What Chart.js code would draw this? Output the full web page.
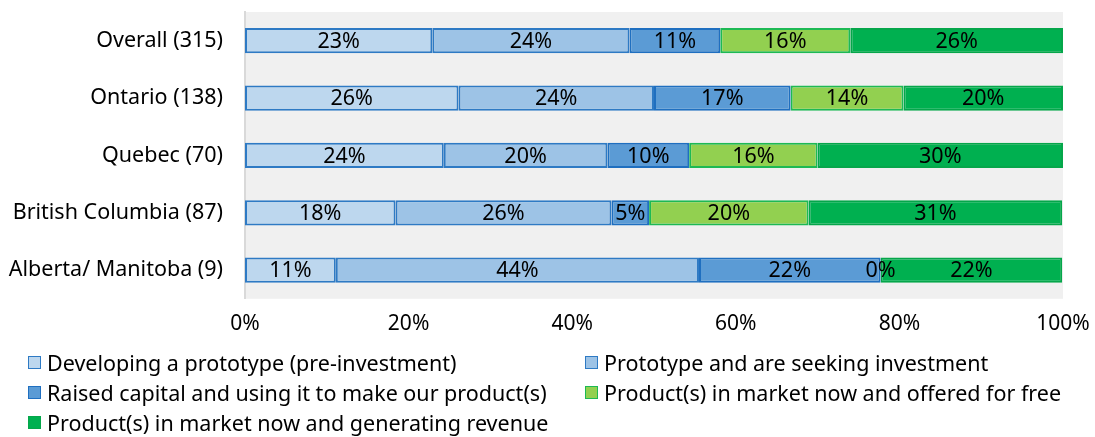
<!DOCTYPE html>
<html>
<head>
<meta charset="utf-8">
<script src="https://cdn.jsdelivr.net/npm/chart.js@4.4.1/dist/chart.umd.min.js"></script>
<style>
  html, body { margin: 0; padding: 0; background: #ffffff; }
  #wrap { position: relative; width: 1095px; height: 437px; font-family: "Noto Sans", sans-serif; }
  #box { position: absolute; left: 0; top: 0; width: 1095px; height: 350px; }
  #legend {
    position: absolute; left: 28px; top: 347px;
    display: grid; grid-template-columns: 557px auto;
  }
  .item { display: flex; align-items: center; height: 30px; font-size: 21.5px; color: #000; white-space: nowrap; }
  .sw { width: 11px; height: 11px; border: 1px solid; margin-right: 6px; flex: none; }
</style>
</head>
<body>
<div id="wrap">
  <div id="box"><canvas id="chart"></canvas></div>
  <div id="legend"></div>
</div>
<script>
// Respondent groups (sample size in brackets)
const regions = ["Overall (315)", "Ontario (138)", "Quebec (70)", "British Columbia (87)", "Alberta/ Manitoba (9)"];

// Share of respondents (%) at each stage, per region
const developingPrototype = [22.9, 26.1, 24.3, 18.4, 11.1];
const seekingInvestment   = [24.1, 23.9, 20.0, 26.4, 44.4];
const raisedCapital       = [11.1, 16.7, 10.0, 4.6, 22.2];
const offeredForFree      = [15.9, 13.8, 15.7, 19.5, 0.0];
const generatingRevenue   = [26.0, 19.5, 30.0, 31.0, 22.2];

const stageNames = [
  "Developing a prototype (pre-investment)",
  "Prototype and are seeking investment",
  "Raised capital and using it to make our product(s)",
  "Product(s) in market now and offered for free",
  "Product(s) in market now and generating revenue"
];

const xTicks = [0, 20, 40, 60, 80, 100];

const fills   = ["#bdd7ee", "#9dc3e6", "#5b9bd5", "#92d050", "#00b050"];
const borders = ["#2e7ac4", "#2e7ac4", "#1f6fc0", "#1db954", "#05a64a"];

const series = [developingPrototype, seekingInvestment, raisedCapital, offeredForFree, generatingRevenue];

Chart.defaults.font.family = "'Noto Sans', sans-serif";
Chart.defaults.color = "#000";

// Grey plot background
const plotBackground = {
  id: "plotBackground",
  beforeDraw(chart) {
    const { ctx, chartArea: a } = chart;
    ctx.save();
    ctx.fillStyle = "#f0f0f0";
    ctx.fillRect(a.left, a.top, a.right - a.left, a.bottom - a.top);
    ctx.restore();
  }
};

// Percentage label centred in each segment
const segmentLabels = {
  id: "segmentLabels",
  afterDatasetsDraw(chart) {
    const ctx = chart.ctx;
    ctx.save();
    ctx.font = "21.5px 'Noto Sans', sans-serif";
    ctx.fillStyle = "#000";
    ctx.textAlign = "center";
    ctx.textBaseline = "middle";
    chart.data.datasets.forEach((ds, di) => {
      chart.getDatasetMeta(di).data.forEach((bar, i) => {
        const cx = (bar.x + bar.base) / 2;
        ctx.fillText(Math.round(ds.data[i]) + "%", cx, bar.y + 1);
      });
    });
    ctx.restore();
  }
};

new Chart(document.getElementById("chart"), {
  type: "bar",
  data: {
    labels: regions,
    datasets: series.map((values, k) => ({
      label: stageNames[k],
      data: values,
      backgroundColor: fills[k],
      borderColor: borders[k],
      borderWidth: 2,
      borderSkipped: false,
      barPercentage: 0.44,
      categoryPercentage: 1
    }))
  },
  options: {
    indexAxis: "y",
    responsive: true,
    maintainAspectRatio: false,
    animation: false,
    layout: { padding: { top: 12, right: 0, left: 0, bottom: 0 } },
    plugins: { legend: { display: false }, tooltip: { enabled: false } },
    scales: {
      x: {
        stacked: true,
        min: 0,
        max: 100,
        afterBuildTicks(scale) { scale.ticks = xTicks.map(v => ({ value: v })); },
        afterFit(scale) { scale.paddingRight = 32; },
        grid: { display: false, drawTicks: false },
        border: { display: false },
        ticks: { padding: 13, font: { size: 21 }, callback: v => v + "%" }
      },
      y: {
        stacked: true,
        afterFit(scale) {
          scale.width = 245;
          scale.paddingTop = 0;
          scale.paddingBottom = 0;
        },
        grid: { display: false, drawTicks: false },
        border: { display: true, color: "#d9d9d9", width: 2 },
        ticks: { padding: 22, font: { size: 21.5 } }
      }
    }
  },
  plugins: [plotBackground, segmentLabels]
});

// Two-column legend
const legend = document.getElementById("legend");
stageNames.forEach((name, k) => {
  const item = document.createElement("div");
  item.className = "item";
  const sw = document.createElement("span");
  sw.className = "sw";
  sw.style.background = fills[k];
  sw.style.borderColor = borders[k];
  item.appendChild(sw);
  item.appendChild(document.createTextNode(name));
  legend.appendChild(item);
});
</script>
</body>
</html>
